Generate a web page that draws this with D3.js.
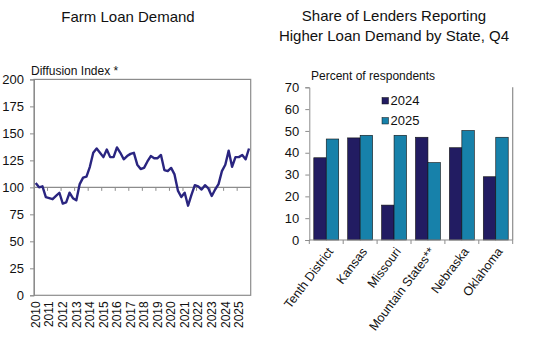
<!DOCTYPE html>
<html>
<head>
<meta charset="utf-8">
<script src="https://cdn.jsdelivr.net/npm/d3@7"></script>
<style>
  body { margin: 0; background: #fff; }
  text { font-family: "Liberation Sans", Arial, sans-serif; fill: #111; }
</style>
</head>
<body>
<div id="container"></div>
<script>
/* CONSTANTS AND GLOBALS */
const width = 541;
const height = 342;

// left panel: quarterly diffusion index, 2010Q1 - 2025Q4
const years = d3.range(2010, 2026);
const demandIndex = [
  104, 100, 101, 91, 90, 89, 92, 95, 85, 86, 95, 90, 88, 103, 109, 110,
  119, 132, 136, 132, 128, 135, 128, 128, 137, 132, 126, 129, 131, 132, 121, 117,
  118, 124, 129, 127, 127, 130, 116, 115, 118, 112, 97, 91, 95, 83, 93, 102,
  101, 98, 102, 99, 92, 98, 103, 115, 121, 134, 119, 128, 128, 130, 126, 136
];
const indexTicks = [0, 25, 50, 75, 100, 125, 150, 175, 200];

// right panel: share of lenders reporting higher demand
const states = ["Tenth District", "Kansas", "Missouri", "Mountain States**", "Nebraska", "Oklahoma"];
const share2024 = [37.7, 46.8, 16, 47.1, 42.3, 29];
const share2025 = [46.3, 48, 48, 35.5, 50.2, 47.1];
const seriesNames = ["2024", "2025"];
const shareTicks = [0, 10, 20, 30, 40, 50, 60, 70];

const lineColor = "#2a2580";
const colors = ["#221c62", "#1781aa"];
const axisColor = "#8c8c8c";

const svg = d3.select("#container")
  .append("svg")
  .attr("width", width)
  .attr("height", height);

/* LEFT CHART */
const L = {left: 34, right: 250.7, top: 79.4, bottom: 295.3};

const xQ = d3.scaleBand()
  .domain(d3.range(demandIndex.length))
  .range([L.left, L.right]);

const yIdx = d3.scaleLinear()
  .domain([0, 200])
  .range([L.bottom, L.top]);

svg.append("text")
  .attr("x", 128)
  .attr("y", 22)
  .attr("text-anchor", "middle")
  .style("font-size", "15px")
  .text("Farm Loan Demand");

svg.append("text")
  .attr("x", 31)
  .attr("y", 75)
  .style("font-size", "12px")
  .text("Diffusion Index *");

// plot box
svg.append("rect")
  .attr("x", L.left)
  .attr("y", L.top)
  .attr("width", L.right - L.left)
  .attr("height", L.bottom - L.top)
  .attr("fill", "none")
  .attr("stroke", axisColor)
  .attr("stroke-width", 1.2);

// y axis
const yAxisL = d3.axisLeft(yIdx).tickValues(indexTicks).tickSize(4).tickPadding(6);
svg.append("g")
  .attr("transform", `translate(${L.left},0)`)
  .call(yAxisL)
  .call(g => g.select(".domain").attr("stroke", axisColor))
  .call(g => g.selectAll(".tick line").attr("stroke", axisColor))
  .call(g => g.selectAll("text").style("font-size", "13px").attr("fill", "#111"));

// 100 baseline with year ticks
svg.append("line")
  .attr("x1", L.left).attr("x2", L.right)
  .attr("y1", yIdx(100)).attr("y2", yIdx(100))
  .attr("stroke", axisColor)
  .attr("stroke-width", 1.2);

const yearTicks = d3.range(1, years.length).map(k => xQ(k * 4));
svg.append("g")
  .selectAll("line")
  .data(yearTicks)
  .join("line")
  .attr("x1", d => d).attr("x2", d => d)
  .attr("y1", yIdx(100)).attr("y2", yIdx(100) + 3.5)
  .attr("stroke", axisColor);

// year labels
svg.append("g")
  .selectAll("text")
  .data(years)
  .join("text")
  .attr("transform", (d, i) => `translate(${xQ(i * 4) + xQ.bandwidth() / 2},${L.bottom + 6}) rotate(-90)`)
  .attr("text-anchor", "end")
  .attr("dy", "0.35em")
  .style("font-size", "12px")
  .text(d => d);

// line
const line = d3.line()
  .x((d, i) => xQ(i) + xQ.bandwidth() / 2)
  .y(d => yIdx(d));

svg.append("path")
  .datum(demandIndex)
  .attr("d", line)
  .attr("fill", "none")
  .attr("stroke", lineColor)
  .attr("stroke-width", 2.4)
  .attr("stroke-linejoin", "round");

/* RIGHT CHART */
const R = {left: 309.3, right: 512.7, top: 87.3, bottom: 240};

svg.append("text")
  .attr("x", 394)
  .attr("y", 21)
  .attr("text-anchor", "middle")
  .style("font-size", "15px")
  .text("Share of Lenders Reporting");

svg.append("text")
  .attr("x", 394)
  .attr("y", 41)
  .attr("text-anchor", "middle")
  .style("font-size", "15px")
  .text("Higher Loan Demand by State, Q4");

svg.append("text")
  .attr("x", 311)
  .attr("y", 80)
  .style("font-size", "12px")
  .text("Percent of respondents");

const xState = d3.scaleBand()
  .domain(states)
  .range([R.left, R.right]);

const xSeries = d3.scaleBand()
  .domain(seriesNames)
  .range([0, xState.bandwidth()])
  .paddingInner(0)
  .paddingOuter(0.36);

const yShare = d3.scaleLinear()
  .domain([0, 70])
  .range([R.bottom, R.top]);

// right border
svg.append("line")
  .attr("x1", R.right).attr("x2", R.right)
  .attr("y1", R.top).attr("y2", R.bottom)
  .attr("stroke", axisColor)
  .attr("stroke-width", 1.2);

const rows = states.map((s, i) => ({state: s, values: [share2024[i], share2025[i]]}));

const groups = svg.append("g")
  .selectAll("g")
  .data(rows)
  .join("g")
  .attr("transform", d => `translate(${xState(d.state)},0)`);

groups.selectAll("rect")
  .data(d => d.values.map((v, j) => ({series: seriesNames[j], value: v, j: j})))
  .join("rect")
  .attr("x", d => xSeries(d.series))
  .attr("y", d => yShare(d.value))
  .attr("width", xSeries.bandwidth())
  .attr("height", d => R.bottom - yShare(d.value))
  .attr("fill", d => colors[d.j])
  .attr("stroke", "#111")
  .attr("stroke-width", 0.6);

// y axis
svg.append("g")
  .attr("transform", `translate(${R.left},0)`)
  .call(d3.axisLeft(yShare).tickValues(shareTicks).tickSize(4).tickPadding(6))
  .call(g => g.select(".domain").attr("stroke", axisColor))
  .call(g => g.selectAll(".tick line").attr("stroke", axisColor))
  .call(g => g.selectAll("text").style("font-size", "13px").attr("fill", "#111"));

// x axis with ticks between categories
svg.append("line")
  .attr("x1", R.left).attr("x2", R.right)
  .attr("y1", R.bottom).attr("y2", R.bottom)
  .attr("stroke", axisColor)
  .attr("stroke-width", 1.2);

svg.append("g")
  .selectAll("line")
  .data(d3.range(states.length + 1).map(k => R.left + k * xState.bandwidth()))
  .join("line")
  .attr("x1", d => d).attr("x2", d => d)
  .attr("y1", R.bottom).attr("y2", R.bottom + 4)
  .attr("stroke", axisColor);

svg.append("g")
  .selectAll("text")
  .data(states)
  .join("text")
  .attr("transform", d => `translate(${xState(d) + xState.bandwidth() / 2 + 4},${R.bottom + 9}) rotate(-53)`)
  .attr("text-anchor", "end")
  .attr("dy", "0.35em")
  .style("font-size", "12.5px")
  .text(d => d);

// legend
const legend = svg.append("g")
  .selectAll("g")
  .data(seriesNames)
  .join("g")
  .attr("transform", (d, i) => `translate(382,${97.5 + i * 20})`);

legend.append("rect")
  .attr("width", 6.5)
  .attr("height", 6.5)
  .attr("fill", (d, i) => colors[i])
  .attr("stroke", "#111")
  .attr("stroke-width", 0.5);

legend.append("text")
  .attr("x", 8.5)
  .attr("y", 7)
  .style("font-size", "13px")
  .text(d => d);
</script>
</body>
</html>
